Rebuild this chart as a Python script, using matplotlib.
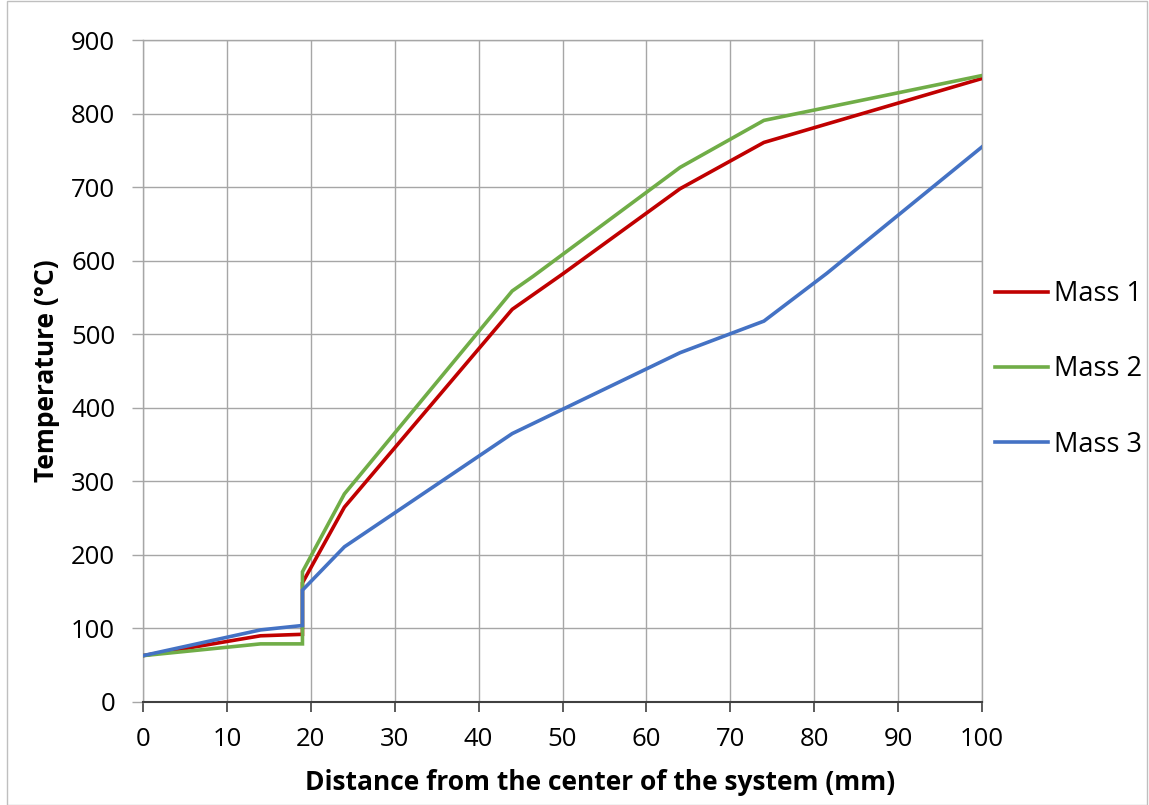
import matplotlib
matplotlib.use("Agg")
import matplotlib.pyplot as plt
from matplotlib.patches import Rectangle

plt.rcParams['font.family'] = ['Open Sans', 'DejaVu Sans']

x1 = [0, 14, 19, 19, 24, 44, 50, 64, 74, 100]
mass1 = [63, 90, 92, 162, 265, 534, 582, 698, 761, 848]

x2 = [0, 14, 19, 19, 24, 44, 46.5, 64, 74, 100]
mass2 = [63, 79, 79, 177, 283, 559, 579, 727, 791, 852]

x3 = [0, 14, 19, 19, 24, 44, 64, 74, 81.5, 100]
mass3 = [63, 98, 104, 152, 211, 365, 475, 518, 583, 755]

series_names = ["Mass 1", "Mass 2", "Mass 3"]
colors = ["#C00000", "#70AD47", "#4472C4"]

x_ticks = list(range(0, 101, 10))
y_ticks = list(range(0, 901, 100))

fig = plt.figure(figsize=(11.49, 8.05), dpi=100)
ax = fig.add_axes([0.1245, 0.128, 0.8547 - 0.1245, 0.950 - 0.128])

for xs, ys, name, c in zip([x1, x2, x3], [mass1, mass2, mass3], series_names, colors):
    ax.plot(xs, ys, color=c, lw=2.6, label=name, solid_joinstyle='miter', zorder=3)

ax.set_xlim(0, 100)
ax.set_ylim(0, 900)
ax.set_xticks(x_ticks)
ax.set_yticks(y_ticks)
ax.grid(True, color="#A6A6A6", lw=1.0, zorder=0)
ax.set_axisbelow(True)
for s in ["top", "right", "left"]:
    ax.spines[s].set_color("#A6A6A6")
    ax.spines[s].set_linewidth(1.0)
ax.spines["bottom"].set_color("#404040")
ax.spines["bottom"].set_linewidth(1.5)
ax.tick_params(axis='x', direction='out', length=7, width=1.2, color="#404040", labelsize=18.5, pad=11)
ax.tick_params(axis='y', direction='out', length=8, width=1.0, color="#A6A6A6", labelsize=18.5, pad=12)

ax.set_xlabel("Distance from the center of the system (mm)", fontsize=19, fontweight='bold')
ax.xaxis.set_label_coords(0.545, -0.121)
ax.xaxis.label.set_va('center')
ax.set_ylabel("Temperature (°C)", fontsize=19, fontweight='bold', labelpad=8)

leg = fig.legend(loc='center left', bbox_to_anchor=(0.845, 0.541), frameon=False,
                 fontsize=19.5, handlelength=1.95, handletextpad=0.2, labelspacing=1.75)

fig.patches.append(Rectangle((0.006, 0.0), 0.992, 0.999, transform=fig.transFigure,
                             fill=False, edgecolor="#BFBFBF", lw=1.0))

fig.savefig("out.png", dpi=100, facecolor="white")
